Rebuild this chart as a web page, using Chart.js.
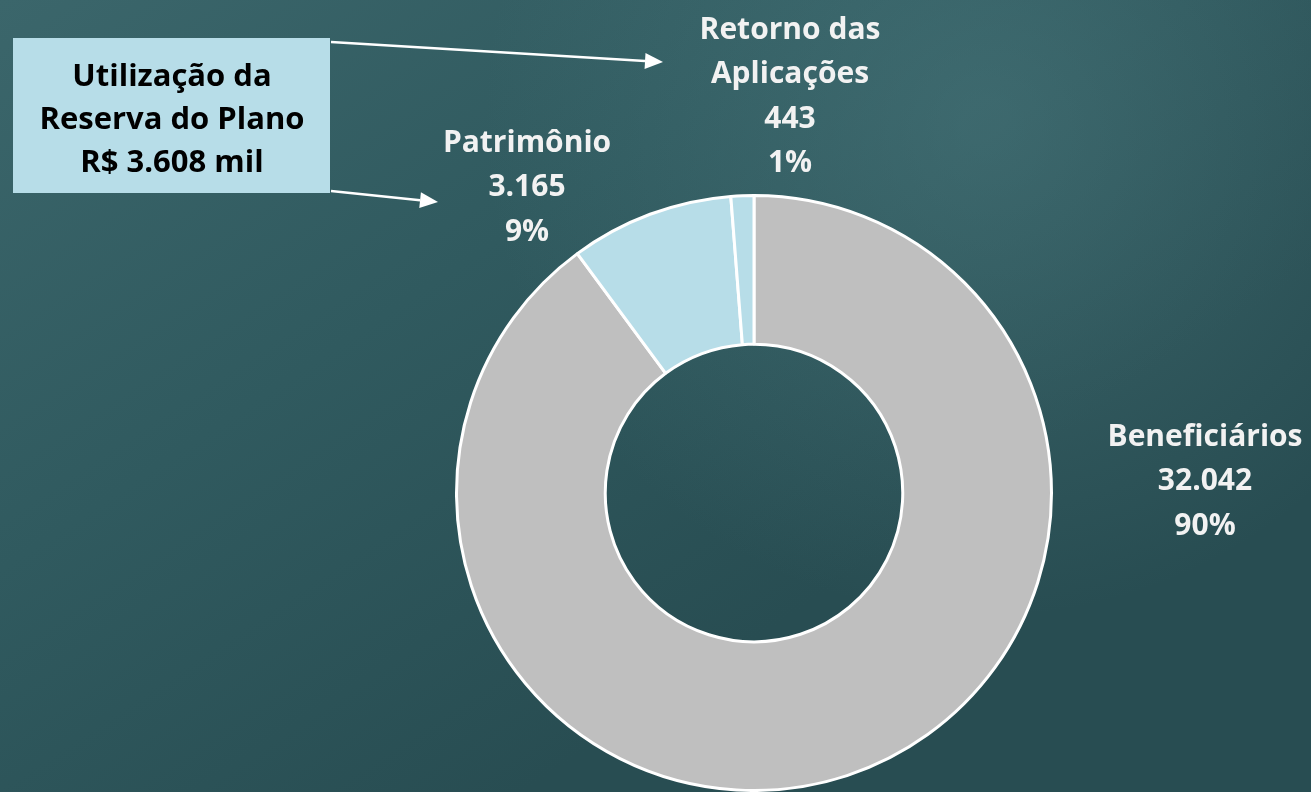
<!DOCTYPE html>
<html>
<head>
<meta charset="utf-8">
<script src="https://cdn.jsdelivr.net/npm/chart.js@4.4.1/dist/chart.umd.min.js"></script>
<style>
  html, body { margin: 0; padding: 0; background: #315a5f; }
  #wrap { width: 1311px; height: 792px; position: relative; }
</style>
</head>
<body>
<div id="wrap"><canvas id="chart" width="1311" height="792"></canvas></div>
<script>
var categories = ['Beneficiários', 'Patrimônio', 'Retorno das Aplicações'];
var values = [32042, 3165, 443];
var valueLabels = ['32.042', '3.165', '443'];
var percentLabels = ['90%', '9%', '1%'];
var colors = ['#bfbfbf', '#b7dde8', '#b7dde8'];
var calloutLines = ['Utilização da', 'Reserva do Plano', 'R$ 3.608 mil'];

var FONT = '"Open Sans", Lato, sans-serif';

// chalkboard style background
var background = {
    id: 'background',
    beforeDraw: function (chart) {
        var c = chart.ctx;
        var w = chart.width, h = chart.height;
        c.save();
        var g = c.createLinearGradient(0, 0, w * 0.4, h);
        g.addColorStop(0, '#3b666b');
        g.addColorStop(0.5, '#305a5f');
        g.addColorStop(1, '#284d52');
        c.fillStyle = g;
        c.fillRect(0, 0, w, h);
        var r = c.createRadialGradient(w * 0.75, h * 0.15, 20, w * 0.75, h * 0.15, 500);
        r.addColorStop(0, 'rgba(90,140,145,0.35)');
        r.addColorStop(1, 'rgba(90,140,145,0)');
        c.fillStyle = r;
        c.fillRect(0, 0, w, h);
        c.restore();
    }
};

function arrow(c, x1, y1, x2, y2) {
    var a = Math.atan2(y2 - y1, x2 - x1);
    var hl = 18, hw = 8;
    var bx = x2 - hl * Math.cos(a), by = y2 - hl * Math.sin(a);
    c.beginPath();
    c.moveTo(x1, y1);
    c.lineTo(bx, by);
    c.stroke();
    c.beginPath();
    c.moveTo(x2, y2);
    c.lineTo(bx - hw * Math.sin(a), by + hw * Math.cos(a));
    c.lineTo(bx + hw * Math.sin(a), by - hw * Math.cos(a));
    c.closePath();
    c.fill();
}

var labelsPlugin = {
    id: 'labelsPlugin',
    afterDraw: function (chart) {
        var c = chart.ctx;
        c.save();
        c.textAlign = 'center';
        c.textBaseline = 'middle';
        c.fillStyle = '#f2f2f2';
        c.font = 'bold 30px ' + FONT;

        // slice labels
        var spots = [
            { x: 1205, y: 437, lines: ['Beneficiários', valueLabels[0], percentLabels[0]] },
            { x: 527, y: 143, lines: ['Patrimônio', valueLabels[1], percentLabels[1]] },
            { x: 790, y: 30, lines: ['Retorno das', 'Aplicações', valueLabels[2], percentLabels[2]] }
        ];
        spots.forEach(function (s) {
            s.lines.forEach(function (t, i) {
                c.fillText(t, s.x, s.y + i * 44.5);
            });
        });

        // callout box
        c.fillStyle = '#b7dde8';
        c.fillRect(13, 38, 317, 155);
        c.fillStyle = '#000';
        c.font = 'bold 31px ' + FONT;
        calloutLines.forEach(function (t, i) {
            c.fillText(t, 172, 77 + i * 43);
        });

        // arrows
        c.strokeStyle = '#ffffff';
        c.fillStyle = '#ffffff';
        c.lineWidth = 2.5;
        arrow(c, 331, 42, 663, 62);
        arrow(c, 331, 191, 438, 202);
        c.restore();
    }
};

var ctx = document.getElementById('chart').getContext('2d');
var chart = new Chart(ctx, {
    type: 'doughnut',
    data: {
        labels: categories,
        datasets: [{
            data: values,
            backgroundColor: colors,
            borderColor: '#ffffff',
            borderWidth: 3
        }]
    },
    options: {
        responsive: false,
        animation: false,
        cutout: '50%',
        layout: { padding: { top: 194, bottom: 0, left: 200, right: 3 } },
        plugins: {
            legend: { display: false },
            tooltip: { enabled: false }
        }
    },
    plugins: [background, labelsPlugin]
});
</script>
</body>
</html>
